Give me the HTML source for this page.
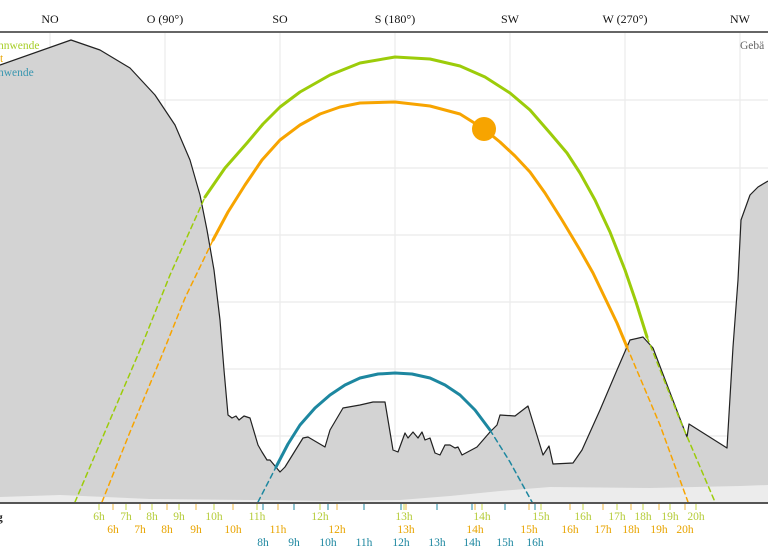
<!DOCTYPE html>
<html><head><meta charset="utf-8"><style>
html,body{margin:0;padding:0;background:#fff;}
svg{display:block;font-family:"Liberation Serif",serif;}
</style></head><body>
<svg width="768" height="560" viewBox="0 0 768 560" xmlns="http://www.w3.org/2000/svg">
<g stroke="#ebebeb" stroke-width="1.2">
<line x1="50" y1="33" x2="50" y2="502"/><line x1="165" y1="33" x2="165" y2="502"/><line x1="280" y1="33" x2="280" y2="502"/><line x1="395" y1="33" x2="395" y2="502"/><line x1="510" y1="33" x2="510" y2="502"/><line x1="625" y1="33" x2="625" y2="502"/><line x1="740" y1="33" x2="740" y2="502"/>
<line x1="0" y1="100" x2="768" y2="100"/><line x1="0" y1="168" x2="768" y2="168"/><line x1="0" y1="235" x2="768" y2="235"/><line x1="0" y1="302" x2="768" y2="302"/><line x1="0" y1="369" x2="768" y2="369"/><line x1="0" y1="436" x2="768" y2="436"/>
</g>
<polygon fill="#d3d3d3" points="0,65 71,40 100,50 130,68 155,95 175,125 190,160 200,195 207,230 214,270 220,320 224,370 228,415 232,418 236,416 239,420 244,416 250,418 258,445 262,452 267,460 270,460 280,472 285,467 303,438 308,437 325,447 330,430 343,408 360,405 373,402 385,402 393,450 398,452 405,433 408,438 413,432 418,438 422,432 425,440 430,438 435,453 440,455 445,445 450,445 455,448 458,447 462,455 477,447 490,432 497,425 500,415 515,416 528,406 543,455 549,446 553,464 573,463 582,450 600,410 617,370 630,340 643,337 653,348 687,437 689,424 727,448 733,347 738,280 741,220 750,195 758,187 768,181 768,503 0,503"/>
<polyline fill="none" stroke="#222" stroke-width="1.2" stroke-linejoin="round" points="0,65 71,40 100,50 130,68 155,95 175,125 190,160 200,195 207,230 214,270 220,320 224,370 228,415 232,418 236,416 239,420 244,416 250,418 258,445 262,452 267,460 270,460 280,472 285,467 303,438 308,437 325,447 330,430 343,408 360,405 373,402 385,402 393,450 398,452 405,433 408,438 413,432 418,438 422,432 425,440 430,438 435,453 440,455 445,445 450,445 455,448 458,447 462,455 477,447 490,432 497,425 500,415 515,416 528,406 543,455 549,446 553,464 573,463 582,450 600,410 617,370 630,340 643,337 653,348 687,437 689,424 727,448 733,347 738,280 741,220 750,195 758,187 768,181"/>
<polygon fill="#ececec" points="0,497 60,495 150,499 250,500 330,501 400,500 450,496 500,491 550,487 650,488 740,486 768,485 768,503 0,503"/>
<g fill="none" stroke-width="3" stroke-linejoin="round" stroke-linecap="round">
<polyline stroke="#9ccc0a" stroke-width="1.5" stroke-dasharray="5,4" points="75,502 110,420 140,350 170,275 205,197"/>
<polyline stroke="#9ccc0a" points="205,197 225,168 247,143 263,124 280,107 300,92 330,75 360,63 395,57 430,59 460,66 485,77 510,93 530,110 550,133 567,153 580,173 595,200 610,232 625,270 636,302 647,337"/>
<polyline stroke="#9ccc0a" stroke-width="1.5" stroke-dasharray="5,4" points="647,337 680,420 715,502"/>
<polyline stroke="#f7a400" stroke-width="1.5" stroke-dasharray="5,4" points="102,502 130,432 160,360 185,298 213,240"/>
<polyline stroke="#f7a400" points="213,240 228,212 245,185 262,160 280,140 300,125 320,114 340,107 360,103 395,102 430,106 460,114 484,129 500,142 515,156 530,172 545,193 562,220 580,250 593,273 605,298 617,323 627,347"/>
<polyline stroke="#f7a400" stroke-width="1.5" stroke-dasharray="5,4" points="627,347 660,425 688,502"/>
<polyline stroke="#1d87a0" stroke-width="1.5" stroke-dasharray="5,4" points="258,502 276,467"/>
<polyline stroke="#1d87a0" points="276,467 288,444 300,425 315,408 330,395 345,385 360,378 378,374 395,373 412,374 430,378 445,385 460,395 475,410 490,430"/>
<polyline stroke="#1d87a0" stroke-width="1.5" stroke-dasharray="5,4" points="490,430 510,462 532,502"/>
</g>
<circle cx="484" cy="129" r="12" fill="#f7a400"/>
<line x1="0" y1="32" x2="768" y2="32" stroke="#666" stroke-width="2"/>
<line x1="0" y1="503" x2="768" y2="503" stroke="#555" stroke-width="2"/>
<g font-size="12" fill="#111" text-anchor="middle">
<text x="50" y="23">NO</text><text x="165" y="23">O (90°)</text><text x="280" y="23">SO</text><text x="395" y="23">S (180°)</text><text x="510" y="23">SW</text><text x="625" y="23">W (270°)</text><text x="740" y="23">NW</text>
</g>
<g font-size="11.5">
<text x="-2" y="49" fill="#a8cf2a">nnwende</text>
<text x="0" y="62" fill="#e8a400">t</text>
<text x="-2" y="76" fill="#3a97b0">nwende</text>
<text x="740" y="49" fill="#666">Gebä</text>
<text x="-3" y="521" fill="#222" font-weight="bold">g</text>
</g>
<g font-size="11.5" text-anchor="middle" fill="#b5cc3a">
<text x="99" y="520">6h</text><text x="126" y="520">7h</text><text x="152" y="520">8h</text><text x="179" y="520">9h</text><text x="214" y="520">10h</text><text x="257" y="520">11h</text><text x="320" y="520">12h</text><text x="404" y="520">13h</text><text x="482" y="520">14h</text><text x="541" y="520">15h</text><text x="583" y="520">16h</text><text x="617" y="520">17h</text><text x="643" y="520">18h</text><text x="670" y="520">19h</text><text x="696" y="520">20h</text>
</g>
<g font-size="11.5" text-anchor="middle" fill="#e8a400">
<text x="113" y="533">6h</text><text x="140" y="533">7h</text><text x="167" y="533">8h</text><text x="196" y="533">9h</text><text x="233" y="533">10h</text><text x="278" y="533">11h</text><text x="337" y="533">12h</text><text x="406" y="533">13h</text><text x="475" y="533">14h</text><text x="529" y="533">15h</text><text x="570" y="533">16h</text><text x="603" y="533">17h</text><text x="631" y="533">18h</text><text x="659" y="533">19h</text><text x="685" y="533">20h</text>
</g>
<g font-size="11.5" text-anchor="middle" fill="#1d87a0">
<text x="263" y="546">8h</text><text x="294" y="546">9h</text><text x="328" y="546">10h</text><text x="364" y="546">11h</text><text x="401" y="546">12h</text><text x="437" y="546">13h</text><text x="472" y="546">14h</text><text x="505" y="546">15h</text><text x="535" y="546">16h</text>
</g>
<g stroke-width="1" stroke="#c9d94a">
<line x1="99" y1="504" x2="99" y2="510"/><line x1="126" y1="504" x2="126" y2="510"/><line x1="152" y1="504" x2="152" y2="510"/><line x1="179" y1="504" x2="179" y2="510"/><line x1="214" y1="504" x2="214" y2="510"/><line x1="257" y1="504" x2="257" y2="510"/><line x1="320" y1="504" x2="320" y2="510"/><line x1="404" y1="504" x2="404" y2="510"/><line x1="482" y1="504" x2="482" y2="510"/><line x1="541" y1="504" x2="541" y2="510"/><line x1="583" y1="504" x2="583" y2="510"/><line x1="617" y1="504" x2="617" y2="510"/><line x1="643" y1="504" x2="643" y2="510"/><line x1="670" y1="504" x2="670" y2="510"/><line x1="696" y1="504" x2="696" y2="510"/>
</g>
<g stroke-width="1" stroke="#f0b840">
<line x1="113" y1="504" x2="113" y2="510"/><line x1="140" y1="504" x2="140" y2="510"/><line x1="167" y1="504" x2="167" y2="510"/><line x1="196" y1="504" x2="196" y2="510"/><line x1="233" y1="504" x2="233" y2="510"/><line x1="278" y1="504" x2="278" y2="510"/><line x1="337" y1="504" x2="337" y2="510"/><line x1="406" y1="504" x2="406" y2="510"/><line x1="475" y1="504" x2="475" y2="510"/><line x1="529" y1="504" x2="529" y2="510"/><line x1="570" y1="504" x2="570" y2="510"/><line x1="603" y1="504" x2="603" y2="510"/><line x1="631" y1="504" x2="631" y2="510"/><line x1="659" y1="504" x2="659" y2="510"/><line x1="685" y1="504" x2="685" y2="510"/>
</g>
<g stroke-width="1" stroke="#1d87a0">
<line x1="263" y1="504" x2="263" y2="510"/><line x1="294" y1="504" x2="294" y2="510"/><line x1="328" y1="504" x2="328" y2="510"/><line x1="364" y1="504" x2="364" y2="510"/><line x1="401" y1="504" x2="401" y2="510"/><line x1="437" y1="504" x2="437" y2="510"/><line x1="472" y1="504" x2="472" y2="510"/><line x1="505" y1="504" x2="505" y2="510"/><line x1="535" y1="504" x2="535" y2="510"/>
</g>
</svg>
</body></html>
